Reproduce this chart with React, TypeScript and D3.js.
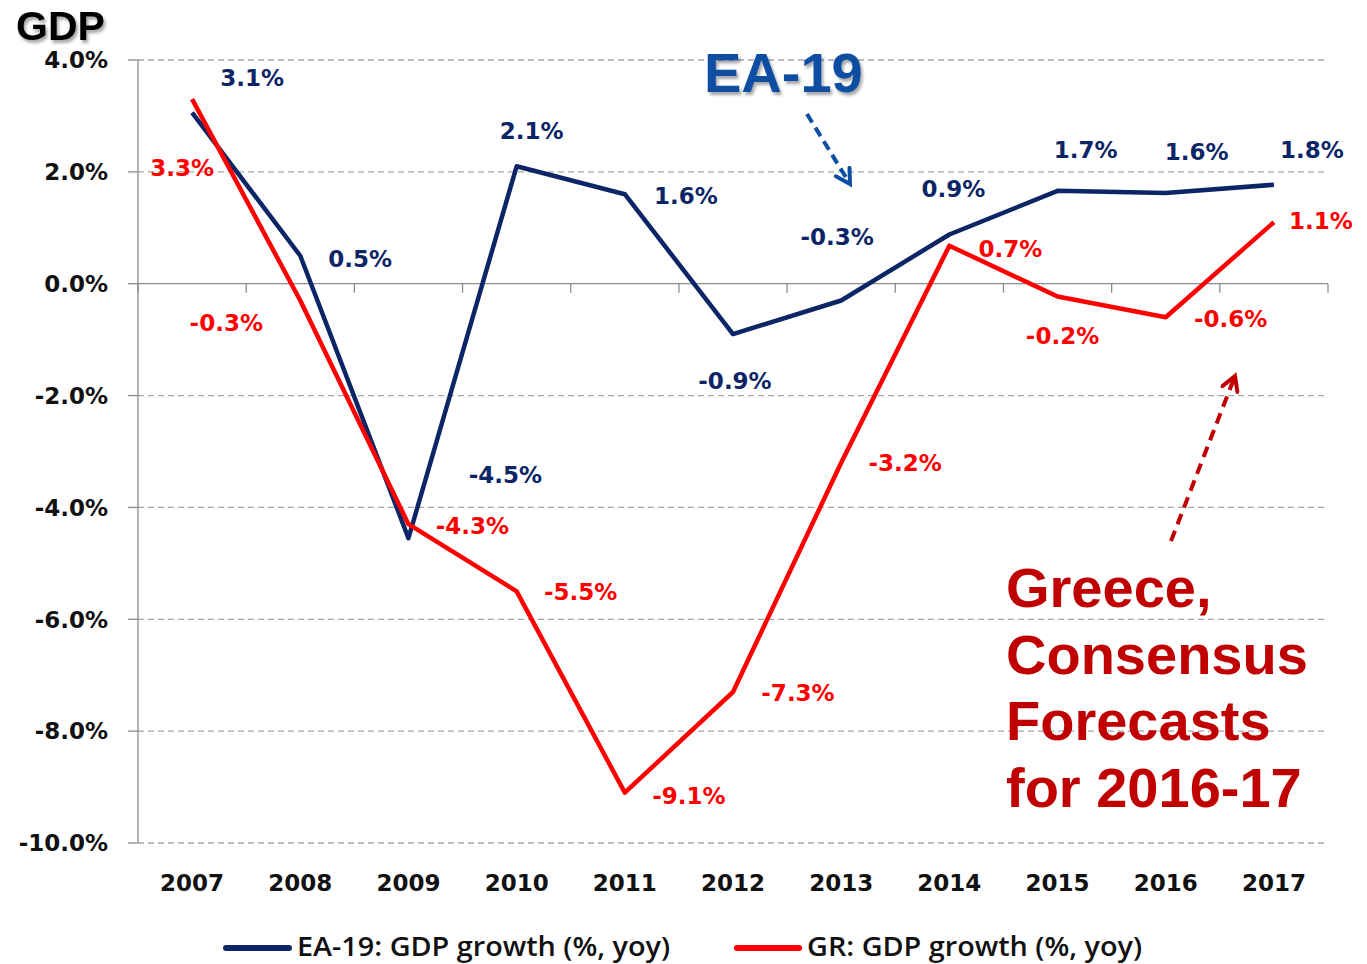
import React from "react";
import * as d3 from "d3";

const years = ["2007", "2008", "2009", "2010", "2011", "2012", "2013", "2014", "2015", "2016", "2017"];
const eaGrowth = [3.06, 0.5, -4.55, 2.1, 1.6, -0.9, -0.3, 0.88, 1.66, 1.62, 1.77];
const grGrowth = [3.3, -0.3, -4.3, -5.5, -9.1, -7.3, -3.2, 0.68, -0.23, -0.6, 1.1];
const eaLabels = ["3.1%", "0.5%", "-4.5%", "2.1%", "1.6%", "-0.9%", "-0.3%", "0.9%", "1.7%", "1.6%", "1.8%"];
const grLabels = ["3.3%", "-0.3%", "-4.3%", "-5.5%", "-9.1%", "-7.3%", "-3.2%", "0.7%", "-0.2%", "-0.6%", "1.1%"];
const yTicks = [4, 2, 0, -2, -4, -6, -8, -10];
const greeceNote = ["Greece,", "Consensus", "Forecasts", "for 2016-17"];

// label placement (pixel offsets from each point)
const eaLabelOffsets: [number, number][] = [
  [60, -35], [60, 3], [97, -63], [15, -36], [61, 1], [2, 47], [-4, -64], [4, -46], [28, -41], [31, -41], [38, -35],
];
const grLabelOffsets: [number, number][] = [
  [-10, 69], [-74, 22], [64, 2], [64, 0], [64, 3], [65, 1], [64, 0], [61, 3], [5, 39], [65, 1], [47, -1],
];

const W = 1367;
const H = 964;
const left = 138;
const right = 1328;
const top = 60;
const bottom = 843;

const EA_COLOR = "#0c2566";
const GR_COLOR = "#ff0000";
const NOTE_BLUE = "#0b4ea2";
const NOTE_RED = "#c00000";
const LABEL_FONT = "'DejaVu Sans', Verdana, sans-serif";
const ARIAL = "'Liberation Sans', Arial, sans-serif";
const LEGEND_FONT = "'Open Sans', 'Noto Sans', sans-serif";

export default function App() {
  const x = d3.scaleBand<string>().domain(years).range([left, right]);
  const y = d3.scaleLinear().domain([-10, 4]).range([bottom, top]);
  const cx = (i: number) => (x(years[i]) as number) + x.bandwidth() / 2;

  const line = d3
    .line<number>()
    .x((_, i) => cx(i))
    .y((d) => y(d));

  const fmtTick = (v: number) => v.toFixed(1) + "%";

  return (
    <div style={{ position: "absolute", left: 0, top: 0 }}>
      <svg width={W} height={H} style={{ display: "block", background: "#fff" }}>
        <defs>
          <filter id="shadow" x="-10%" y="-10%" width="130%" height="140%">
            <feDropShadow dx="2" dy="3" stdDeviation="1.5" floodColor="#000" floodOpacity="0.35" />
          </filter>
          <marker id="arrBlue" viewBox="0 0 10 10" refX="8" refY="5" markerWidth="5" markerHeight="5" orient="auto">
            <path d="M1,1 L8,5 L1,9" fill="none" stroke={NOTE_BLUE} strokeWidth="2" strokeLinecap="round" />
          </marker>
          <marker id="arrRed" viewBox="0 0 10 10" refX="8" refY="5" markerWidth="5" markerHeight="5" orient="auto">
            <path d="M1,1 L8,5 L1,9" fill="none" stroke={NOTE_RED} strokeWidth="2" strokeLinecap="round" />
          </marker>
        </defs>

        {/* gridlines */}
        {yTicks.map((t) => (
          <g key={t}>
            {t !== 0 && (
              <line x1={left} x2={right} y1={y(t)} y2={y(t)} stroke="#a6a6a6" strokeWidth={1.3} strokeDasharray="6,4" />
            )}
            <line x1={left - 10} x2={left} y1={y(t)} y2={y(t)} stroke="#8c8c8c" strokeWidth={1.3} />
            <text
              x={108}
              y={y(t)}
              dy="0.36em"
              textAnchor="end"
              fontFamily={LABEL_FONT}
              fontWeight="bold"
              fontSize={23}
              fill="#111"
            >
              {fmtTick(t)}
            </text>
          </g>
        ))}

        {/* y axis */}
        <line x1={left} x2={left} y1={top} y2={bottom} stroke="#8c8c8c" strokeWidth={1.3} />
        {/* zero line with category ticks */}
        <line x1={left} x2={right} y1={y(0)} y2={y(0)} stroke="#8c8c8c" strokeWidth={1.3} />
        {years.map((yr) => (
          <line
            key={"tk" + yr}
            x1={x(yr) as number}
            x2={x(yr) as number}
            y1={y(0)}
            y2={y(0) + 9}
            stroke="#8c8c8c"
            strokeWidth={1.3}
          />
        ))}
        <line x1={right} x2={right} y1={y(0)} y2={y(0) + 9} stroke="#8c8c8c" strokeWidth={1.3} />

        {/* year labels */}
        {years.map((yr, i) => (
          <text
            key={"yl" + yr}
            x={cx(i)}
            y={891}
            textAnchor="middle"
            fontFamily={LABEL_FONT}
            fontWeight="bold"
            fontSize={23}
            fill="#111"
          >
            {yr}
          </text>
        ))}

        {/* series lines */}
        <path d={line(eaGrowth) || ""} fill="none" stroke={EA_COLOR} strokeWidth={4.5} strokeLinejoin="round" />
        <path d={line(grGrowth) || ""} fill="none" stroke={GR_COLOR} strokeWidth={4.5} strokeLinejoin="round" />

        {/* data labels */}
        {eaGrowth.map((v, i) => (
          <text
            key={"ea" + i}
            x={cx(i) + eaLabelOffsets[i][0]}
            y={y(v) + eaLabelOffsets[i][1]}
            dy="0.36em"
            textAnchor="middle"
            fontFamily={LABEL_FONT}
            fontWeight="bold"
            fontSize={23}
            fill={EA_COLOR}
          >
            {eaLabels[i]}
          </text>
        ))}
        {grGrowth.map((v, i) => (
          <text
            key={"gr" + i}
            x={cx(i) + grLabelOffsets[i][0]}
            y={y(v) + grLabelOffsets[i][1]}
            dy="0.36em"
            textAnchor="middle"
            fontFamily={LABEL_FONT}
            fontWeight="bold"
            fontSize={23}
            fill={GR_COLOR}
          >
            {grLabels[i]}
          </text>
        ))}

        {/* GDP title */}
        <text x={16} y={40} fontFamily={ARIAL} fontWeight="bold" fontSize={41} fill="#000" filter="url(#shadow)">
          GDP
        </text>

        {/* EA-19 annotation */}
        <text x={704} y={92} fontFamily={ARIAL} fontWeight="bold" fontSize={56} fill={NOTE_BLUE} filter="url(#shadow)">
          EA-19
        </text>
        <line
          x1={807}
          y1={114}
          x2={850}
          y2={184}
          stroke={NOTE_BLUE}
          strokeWidth={4}
          strokeDasharray="10,6"
          markerEnd="url(#arrBlue)"
        />

        {/* Greece annotation */}
        {greeceNote.map((s, i) => (
          <text key={s} x={1006} y={607 + i * 66.5} fontFamily={ARIAL} fontWeight="bold" fontSize={56} fill={NOTE_RED}>
            {s}
          </text>
        ))}
        <line
          x1={1171}
          y1={541}
          x2={1235}
          y2={376}
          stroke={NOTE_RED}
          strokeWidth={4}
          strokeDasharray="11,7"
          markerEnd="url(#arrRed)"
        />

        {/* legend */}
        <line x1={226} x2={289} y1={948} y2={948} stroke={EA_COLOR} strokeWidth={6} strokeLinecap="round" />
        <text
          transform="translate(297,956) scale(1.2,1.1)"
          fontFamily={LEGEND_FONT}
          fontWeight={600}
          fontSize={24}
          fill="#111"
        >
          EA-19: GDP growth (%, yoy)
        </text>
        <line x1={737} x2={799} y1={948} y2={948} stroke={GR_COLOR} strokeWidth={6} strokeLinecap="round" />
        <text
          transform="translate(807,956) scale(1.2,1.1)"
          fontFamily={LEGEND_FONT}
          fontWeight={600}
          fontSize={24}
          fill="#111"
        >
          GR: GDP growth (%, yoy)
        </text>
      </svg>
    </div>
  );
}
